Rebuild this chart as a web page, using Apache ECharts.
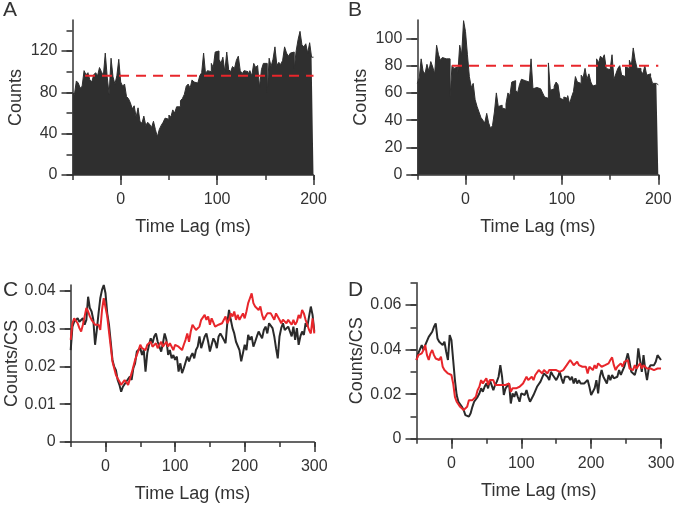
<!DOCTYPE html>
<html><head><meta charset="utf-8">
<script src="https://cdn.jsdelivr.net/npm/echarts@6/dist/echarts.min.js"></script>
<style>html,body{margin:0;padding:0;background:#fff}#c{width:675px;height:514px}</style>
</head><body><div id="c"></div>
<script>
// ---------- Panel A & B: cross-correlogram counts, 2 ms bins from -50 to 200 ms ----------
const binStartAB = -50, binWidthAB = 2;
const countsA = [
  80, 78, 91, 89, 84,   86, 101, 97, 99, 92,   90, 97, 99, 96, 104,   100, 96, 118, 95, 78,   113, 95, 88, 96, 112,
  90, 86, 88, 76, 74,   70, 64, 67, 56, 65,   52, 50, 57, 48, 51,   49, 46, 52, 44, 37,   44, 48, 51, 55, 54,
  58, 56, 63, 60, 66,   66, 72, 74, 78, 86,   88, 84, 92, 90, 89,   90, 96, 99, 118, 98,   101, 100, 108, 104, 119,
  120, 112, 108, 114, 100,   119, 102, 100, 105, 103,   111, 115, 101, 98, 101,   100, 97, 101, 96, 108,   104, 106, 85, 102, 108,
  108, 80, 113, 105, 112,   124, 106, 109, 107, 111,   124, 118, 115, 118, 119,   103, 120, 131, 139, 126,   124, 127, 118, 128, 114
];
const countsB = [
  67, 71, 85, 76, 74,   81, 76, 83, 79, 74,   95, 88, 84, 86, 85,   86, 85, 57, 80, 78,   79, 74, 95, 88, 113,
  105, 88, 72, 64, 67,   55, 50, 46, 42, 40,   38, 45, 38, 34, 36,   46, 60, 50, 51, 49,   48, 52, 60, 58, 68,
  69, 62, 60, 66, 70,   69, 70, 68, 66, 85,   63, 64, 65, 63, 62,   60, 57, 56, 82, 62,   63, 65, 68, 66, 56,
  55, 57, 56, 58, 52,   57, 61, 72, 68, 67,   73, 71, 78, 70, 74,   68, 65, 66, 85, 82,   87, 85, 88, 78, 77,
  76, 88, 70, 74, 78,   80, 73, 72, 79, 78,   84, 80, 93, 84, 78,   78, 76, 74, 80, 73,   74, 72, 67, 67, 66
];
const baselineA = 96, baselineStartA = -37;
const baselineB = 80, baselineStartB = -14;
const lagEndAB = 200;

// ---------- Panel C & D: counts per complex spike, sampled every 2.5 ms from -50 to 300 ms ----------
const lagStartCD = -50, lagStepCD = 2.5;
const blackC = [
  0.0243,0.0305,0.0318,0.0323,0.0327,0.0318,0.0314,0.0327,0.0310,0.0323,
  0.0384,0.0354,0.0345,0.0323,0.0257,0.0296,0.0340,0.0380,0.0402,0.0415,
  0.0393,0.0340,0.0310,0.0265,0.0217,0.0199,0.0190,0.0164,0.0151,0.0133,
  0.0146,0.0142,0.0160,0.0160,0.0173,0.0164,0.0195,0.0208,0.0239,0.0239,
  0.0248,0.0230,0.0243,0.0186,0.0235,0.0257,0.0274,0.0261,0.0279,0.0287,
  0.0265,0.0252,0.0239,0.0261,0.0287,0.0270,0.0230,0.0243,0.0221,0.0230,
  0.0217,0.0226,0.0186,0.0208,0.0182,0.0195,0.0199,0.0226,0.0213,0.0226,
  0.0235,0.0221,0.0243,0.0252,0.0279,0.0248,0.0252,0.0279,0.0287,0.0265,
  0.0239,0.0257,0.0274,0.0265,0.0248,0.0279,0.0287,0.0279,0.0270,0.0261,
  0.0314,0.0349,0.0323,0.0301,0.0287,0.0265,0.0261,0.0243,0.0213,0.0235,
  0.0257,0.0243,0.0283,0.0270,0.0279,0.0252,0.0265,0.0279,0.0292,0.0283,
  0.0274,0.0296,0.0305,0.0287,0.0314,0.0318,0.0301,0.0279,0.0248,0.0221,
  0.0279,0.0301,0.0314,0.0296,0.0292,0.0305,0.0292,0.0279,0.0305,0.0270,
  0.0301,0.0257,0.0279,0.0292,0.0283,0.0314,0.0305,0.0332,0.0358,0.0336,
  0.0292
];
const redC = [
  0.0270,0.0314,0.0327,0.0323,0.0314,0.0301,0.0292,0.0310,0.0332,0.0354,
  0.0345,0.0332,0.0323,0.0327,0.0310,0.0305,0.0310,0.0296,0.0349,0.0380,
  0.0376,0.0332,0.0292,0.0252,0.0213,0.0195,0.0177,0.0168,0.0160,0.0151,
  0.0155,0.0164,0.0164,0.0151,0.0155,0.0182,0.0199,0.0217,0.0213,0.0243,
  0.0257,0.0248,0.0252,0.0243,0.0257,0.0252,0.0265,0.0252,0.0248,0.0261,
  0.0248,0.0257,0.0265,0.0252,0.0257,0.0265,0.0252,0.0261,0.0257,0.0243,
  0.0257,0.0261,0.0252,0.0257,0.0243,0.0257,0.0270,0.0287,0.0265,0.0292,
  0.0310,0.0305,0.0296,0.0301,0.0305,0.0323,0.0318,0.0336,0.0323,0.0332,
  0.0310,0.0327,0.0323,0.0305,0.0310,0.0310,0.0310,0.0314,0.0318,0.0332,
  0.0314,0.0323,0.0340,0.0332,0.0345,0.0323,0.0336,0.0323,0.0323,0.0340,
  0.0327,0.0345,0.0367,0.0380,0.0393,0.0367,0.0358,0.0362,0.0349,0.0358,
  0.0336,0.0323,0.0332,0.0340,0.0336,0.0340,0.0336,0.0323,0.0340,0.0345,
  0.0323,0.0314,0.0323,0.0327,0.0314,0.0323,0.0318,0.0310,0.0323,0.0310,
  0.0318,0.0336,0.0327,0.0349,0.0340,0.0323,0.0310,0.0296,0.0287,0.0327,
  0.0287
];
const blackD = [
  0.0353,0.0383,0.0383,0.0420,0.0398,0.0420,0.0413,0.0457,0.0465,0.0480,
  0.0502,0.0517,0.0450,0.0435,0.0427,0.0420,0.0435,0.0390,0.0353,0.0465,
  0.0442,0.0353,0.0263,0.0196,0.0166,0.0158,0.0143,0.0129,0.0106,0.0106,
  0.0099,0.0114,0.0143,0.0166,0.0173,0.0188,0.0203,0.0226,0.0211,0.0233,
  0.0248,0.0226,0.0263,0.0256,0.0218,0.0241,0.0256,0.0278,0.0330,0.0278,
  0.0196,0.0226,0.0218,0.0248,0.0158,0.0203,0.0188,0.0211,0.0188,0.0166,
  0.0203,0.0211,0.0196,0.0218,0.0188,0.0166,0.0158,0.0196,0.0203,0.0233,
  0.0241,0.0256,0.0263,0.0293,0.0300,0.0278,0.0263,0.0300,0.0286,0.0278,
  0.0263,0.0278,0.0300,0.0271,0.0248,0.0278,0.0271,0.0278,0.0263,0.0278,
  0.0248,0.0271,0.0248,0.0263,0.0248,0.0241,0.0248,0.0241,0.0263,0.0233,
  0.0196,0.0188,0.0226,0.0263,0.0203,0.0278,0.0308,0.0278,0.0271,0.0248,
  0.0286,0.0263,0.0286,0.0271,0.0263,0.0278,0.0308,0.0286,0.0278,0.0323,
  0.0353,0.0383,0.0345,0.0300,0.0308,0.0286,0.0315,0.0405,0.0353,0.0300,
  0.0375,0.0308,0.0263,0.0315,0.0330,0.0323,0.0330,0.0345,0.0375,0.0368,
  0.0353
];
const redD = [
  0.0353,0.0375,0.0368,0.0383,0.0398,0.0420,0.0375,0.0353,0.0383,0.0398,
  0.0375,0.0360,0.0360,0.0353,0.0368,0.0323,0.0308,0.0308,0.0293,0.0293,
  0.0286,0.0248,0.0188,0.0166,0.0158,0.0143,0.0136,0.0129,0.0121,0.0143,
  0.0173,0.0166,0.0173,0.0166,0.0188,0.0218,0.0233,0.0263,0.0248,0.0256,
  0.0271,0.0241,0.0263,0.0256,0.0263,0.0241,0.0248,0.0241,0.0248,0.0241,
  0.0233,0.0241,0.0233,0.0248,0.0211,0.0226,0.0218,0.0226,0.0226,0.0233,
  0.0241,0.0248,0.0256,0.0278,0.0263,0.0256,0.0278,0.0263,0.0286,0.0293,
  0.0308,0.0300,0.0293,0.0308,0.0300,0.0293,0.0308,0.0315,0.0308,0.0300,
  0.0308,0.0315,0.0300,0.0293,0.0308,0.0315,0.0330,0.0338,0.0353,0.0345,
  0.0330,0.0338,0.0345,0.0330,0.0323,0.0323,0.0315,0.0323,0.0293,0.0323,
  0.0330,0.0308,0.0330,0.0315,0.0338,0.0345,0.0323,0.0330,0.0330,0.0323,
  0.0338,0.0353,0.0365,0.0330,0.0308,0.0323,0.0330,0.0338,0.0323,0.0345,
  0.0338,0.0353,0.0315,0.0323,0.0308,0.0330,0.0315,0.0323,0.0338,0.0315,
  0.0330,0.0323,0.0315,0.0308,0.0315,0.0308,0.0308,0.0315,0.0315,0.0323,
  0.0315
];

// ---------- axis ticks / labels ----------
const xTicksAB = [-50, 0, 50, 100, 150, 200], xLabelsAB = [0, 100, 200];
const xTicksCD = [-50, 0, 50, 100, 150, 200, 250, 300], xLabelsCD = [0, 100, 200, 300];
const yTicksA = [0, 20, 40, 60, 80, 100, 120, 140], yLabelsA = [0, 40, 80, 120];
const yTicksB = [0, 20, 40, 60, 80, 100], yLabelsB = [0, 20, 40, 60, 80, 100];
const yTicksC = [0, 0.01, 0.02, 0.03, 0.04], yLabelsC = [0, 0.01, 0.02, 0.03, 0.04];
const yTicksD = [0, 0.01, 0.02, 0.03, 0.04, 0.05, 0.06, 0.07], yLabelsD = [0, 0.02, 0.04, 0.06];
const panelLetters = ['A', 'B', 'C', 'D'];

// ---------- build ----------
const FONT = '"Liberation Sans", Arial, Helvetica, sans-serif';
const INK = '#333333';
const BAR = '#2f2f2f';
const RED = '#e8262b';

// histogram outline: each bin value held from its left edge to the next edge
function histSteps(counts) {
  const pts = counts.map((v, i) => [binStartAB + binWidthAB * i, v]);
  pts.push([binStartAB + binWidthAB * counts.length, counts[counts.length - 1]]);
  return pts;
}
const lagsCD = blackC.map((_, i) => lagStartCD + lagStepCD * i);

const grids = [
  {left: 72.5, top: 20, width: 241, height: 155},
  {left: 417.3, top: 20, width: 241, height: 154.7},
  {left: 70.7, top: 285, width: 243.6, height: 157},
  {left: 416.5, top: 282.7, width: 244.5, height: 156}
].map(g => Object.assign({outerBoundsMode: 'none', containLabel: false}, g));

function xPair(gi, min, max, ticks, labels) {
  return [
    {gridIndex: gi, type: 'value', min, max, position: 'bottom', z: 3,
     axisLine: {onZero: false, lineStyle: {color: INK, width: 1.5}},
     axisTick: {customValues: ticks, length: 5, lineStyle: {color: INK, width: 1.5}},
     axisLabel: {customValues: labels, fontSize: 16, color: INK, fontFamily: FONT, margin: 17},
     splitLine: {show: false},
     name: 'Time Lag (ms)', nameLocation: 'middle', nameGap: 43,
     nameTextStyle: {fontSize: 18, color: INK, fontFamily: FONT}},
    {gridIndex: gi, type: 'value', min, max, position: 'bottom',
     axisLine: {show: false, onZero: false},
     axisTick: {customValues: labels, length: 10, lineStyle: {color: INK, width: 1.5}},
     axisLabel: {show: false}, splitLine: {show: false}}
  ];
}
function yPair(gi, min, max, ticks, labels, name, gap, fmt) {
  return [
    {gridIndex: gi, type: 'value', min, max, position: 'left', z: 3,
     axisLine: {show: true, onZero: false, lineStyle: {color: INK, width: 1.5}},
     axisTick: {show: true, customValues: ticks, length: 6, lineStyle: {color: INK, width: 1.5}},
     axisLabel: {customValues: labels, fontSize: 16, color: INK, fontFamily: FONT, margin: 15, formatter: fmt},
     splitLine: {show: false},
     name, nameLocation: 'middle', nameGap: gap,
     nameTextStyle: {fontSize: 18, color: INK, fontFamily: FONT}},
    {gridIndex: gi, type: 'value', min, max, position: 'left',
     axisLine: {show: false, onZero: false},
     axisTick: {show: true, customValues: labels, length: 11, lineStyle: {color: INK, width: 1.5}},
     axisLabel: {show: false}, splitLine: {show: false}}
  ];
}
const fmtInt = v => String(v);
const fmtDec = v => (v === 0 ? '0' : v.toFixed(2));

const xAxis = [
  ...xPair(0, -50, 200, xTicksAB, xLabelsAB),
  ...xPair(1, -50, 200, xTicksAB, xLabelsAB),
  ...xPair(2, -50, 300, xTicksCD, xLabelsCD),
  ...xPair(3, -50, 300, xTicksCD, xLabelsCD)
];
const yAxis = [
  ...yPair(0, 0, 150, yTicksA, yLabelsA, 'Counts', 47, fmtInt),
  ...yPair(1, 0, 113.5, yTicksB, yLabelsB, 'Counts', 47, fmtInt),
  ...yPair(2, 0, 0.0415, yTicksC, yLabelsC, 'Counts/CS', 46, fmtDec),
  ...yPair(3, 0, 0.07, yTicksD, yLabelsD, 'Counts/CS', 50, fmtDec)
];

function histSeries(ax, counts) {
  return {type: 'line', xAxisIndex: ax, yAxisIndex: ax, step: 'end', symbol: 'none', silent: true,
    data: histSteps(counts), lineStyle: {color: BAR, width: 1},
    areaStyle: {color: BAR, opacity: 1, origin: 'start'}};
}
function dashSeries(ax, start, level) {
  return {type: 'line', xAxisIndex: ax, yAxisIndex: ax, symbol: 'none', silent: true, z: 5,
    data: [[start, level], [lagEndAB, level]],
    lineStyle: {color: RED, width: 2, type: [10, 7]}};
}
function traceSeries(ax, vals, color) {
  return {type: 'line', xAxisIndex: ax, yAxisIndex: ax, symbol: 'none', silent: true,
    data: lagsCD.map((t, i) => [t, vals[i]]), lineStyle: {color, width: 2}};
}

const series = [
  histSeries(0, countsA), dashSeries(0, baselineStartA, baselineA),
  histSeries(2, countsB), dashSeries(2, baselineStartB, baselineB),
  traceSeries(4, blackC, '#2a2a2a'), traceSeries(4, redC, RED),
  traceSeries(6, blackD, '#2a2a2a'), traceSeries(6, redD, RED)
];

const letterPos = [{left: 3, top: 0}, {left: 348, top: 0}, {left: 3, top: 280}, {left: 348, top: 280}];
const title = panelLetters.map((t, i) => Object.assign({
  text: t, textStyle: {fontSize: 21, fontWeight: 'normal', color: INK, fontFamily: FONT}, padding: 0
}, letterPos[i]));

const chart = echarts.init(document.getElementById('c'), null, {renderer: 'canvas'});
chart.setOption({animation: false, backgroundColor: '#fff', title, grid: grids, xAxis, yAxis, series});
</script></body></html>
